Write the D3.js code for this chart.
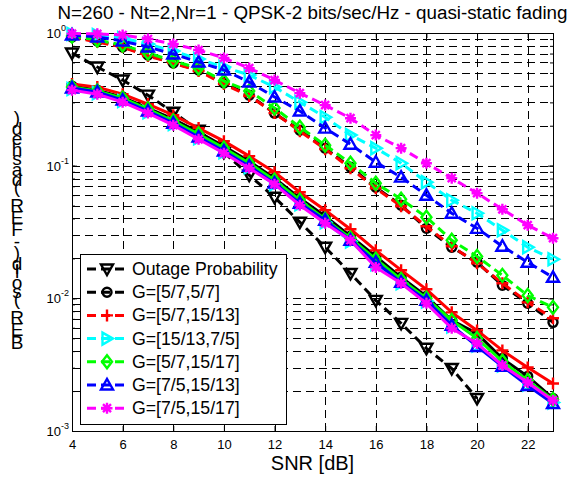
<!DOCTYPE html>
<html>
<head>
<meta charset="utf-8">
<script src="https://cdn.jsdelivr.net/npm/d3@7"></script>
<style>
body { margin: 0; padding: 0; background: #fff; }
svg { display: block; font-family: 'Liberation Sans', Arial, sans-serif; }
</style>
</head>
<body>
<div id="main"></div>
<script>
const TITLE = 'N=260 - Nt=2,Nr=1 - QPSK-2 bits/sec/Hz - quasi-static fading';
const X_LABEL = 'SNR [dB]';
const Y_LABEL = 'BER (solid) - FER (dashed)';
const X_TICKS = [4, 6, 8, 10, 12, 14, 16, 18, 20, 22];
const Y_TICKS = [0.001, 0.01, 0.1, 1];
const Y_TICK_EXP = ['-3', '-2', '-1', '0'];
const LEGEND_LABELS = ['Outage Probability', 'G=[5/7,5/7]', 'G=[5/7,15/13]', 'G=[15/13,7/5]', 'G=[5/7,15/17]', 'G=[7/5,15/13]', 'G=[7/5,15/17]'];

const SNR = [4, 5, 6, 7, 8, 9, 10, 11, 12, 13, 14, 15, 16, 17, 18, 19, 20, 21, 22, 23];
const SNR_OUTAGE = [4, 5, 6, 7, 8, 9, 10, 11, 12, 13, 14, 15, 16, 17, 18, 19, 20];

const outage = [0.706, 0.554, 0.442, 0.340, 0.253, 0.185, 0.126, 0.0848, 0.0578, 0.0375, 0.0243, 0.0154, 0.00966, 0.00648, 0.00420, 0.00296, 0.00176];

// dashed = FER
const fer57_57 = [0.933, 0.870, 0.784, 0.682, 0.594, 0.526, 0.420, 0.340, 0.249, 0.185, 0.1355, 0.0974, 0.0688, 0.0503, 0.0337, 0.0243, 0.0187, 0.01253, 0.00917, 0.00659];
const fer57_1513 = [0.933, 0.855, 0.784, 0.671, 0.594, 0.517, 0.412, 0.335, 0.249, 0.182, 0.1332, 0.0957, 0.0676, 0.0495, 0.0349, 0.0247, 0.0184, 0.0130, 0.00933, 0.00707];
const fer1513_75 = [0.983, 0.966, 0.917, 0.826, 0.731, 0.636, 0.554, 0.482, 0.391, 0.301, 0.232, 0.170, 0.1355, 0.1044, 0.0751, 0.0549, 0.0438, 0.0326, 0.0243, 0.0197];
const fer57_1517 = [0.949, 0.885, 0.812, 0.707, 0.615, 0.544, 0.434, 0.365, 0.272, 0.195, 0.1428, 0.1044, 0.0738, 0.0559, 0.0409, 0.0274, 0.0207, 0.0149, 0.0105, 0.00855];
const fer75_1513 = [0.966, 0.933, 0.870, 0.784, 0.694, 0.604, 0.526, 0.427, 0.329, 0.258, 0.192, 0.145, 0.1062, 0.0819, 0.0599, 0.0438, 0.0337, 0.0247, 0.0187, 0.0144];
const fer75_1517 = [0.99, 0.985, 0.966, 0.901, 0.826, 0.744, 0.648, 0.544, 0.442, 0.352, 0.286, 0.228, 0.170, 0.1355, 0.1044, 0.0805, 0.0620, 0.0469, 0.0356, 0.0284];

// solid = BER
const ber57_57 = [0.398, 0.371, 0.329, 0.272, 0.224, 0.179, 0.140, 0.108, 0.0805, 0.0568, 0.0416, 0.0294, 0.0207, 0.0144, 0.01035, 0.00682, 0.00544, 0.00352, 0.00258, 0.00176];
const ber57_1513 = [0.412, 0.391, 0.346, 0.291, 0.240, 0.192, 0.153, 0.118, 0.0893, 0.0631, 0.0462, 0.0332, 0.0230, 0.0163, 0.0117, 0.00784, 0.00573, 0.00405, 0.00301, 0.00228];
const ber1513_75 = [0.378, 0.352, 0.307, 0.253, 0.206, 0.161, 0.1264, 0.0974, 0.0725, 0.0512, 0.0375, 0.0269, 0.0181, 0.0130, 0.00949, 0.00615, 0.00442, 0.00312, 0.00224, 0.00164];
const ber57_1517 = [0.391, 0.365, 0.323, 0.267, 0.217, 0.173, 0.1355, 0.1044, 0.0777, 0.0549, 0.0395, 0.0284, 0.0197, 0.0139, 0.0100, 0.00682, 0.00499, 0.00335, 0.00240, 0.00173];
const ber75_1513 = [0.385, 0.359, 0.312, 0.258, 0.209, 0.164, 0.1287, 0.0991, 0.0738, 0.0521, 0.0388, 0.0274, 0.0187, 0.0132, 0.00966, 0.00625, 0.00434, 0.00307, 0.00220, 0.00161];
const ber75_1517 = [0.371, 0.346, 0.301, 0.249, 0.202, 0.158, 0.1243, 0.0957, 0.0725, 0.0503, 0.0368, 0.0274, 0.0171, 0.0130, 0.00917, 0.00594, 0.00457, 0.00312, 0.00232, 0.00170];

const codes = [
    {color: '#000000', marker: 'o', fer: fer57_57, ber: ber57_57},
    {color: '#ff0000', marker: '+', fer: fer57_1513, ber: ber57_1513},
    {color: '#00ffff', marker: '>', fer: fer1513_75, ber: ber1513_75},
    {color: '#00ff00', marker: 'd', fer: fer57_1517, ber: ber57_1517},
    {color: '#0000ff', marker: '^', fer: fer75_1513, ber: ber75_1513},
    {color: '#ff00ff', marker: '*', fer: fer75_1517, ber: ber75_1517}
];

const WIDTH = 569, HEIGHT = 477;
const LEFT = 72, RIGHT = 553, TOP = 33, BOTTOM = 431;
const DASH = '9,5';

const markerPath = (type) => {
    switch (type) {
        case 'v': return 'M-6,-4.5L6,-4.5L0,6Z';
        case '^': return 'M-6,4.5L6,4.5L0,-6Z';
        case '>': return 'M-4.5,-6L-4.5,6L6,0Z';
        case 'o': return 'M4.5,0A4.5,4.5 0 1,1 -4.5,0A4.5,4.5 0 1,1 4.5,0Z';
        case 'd': return 'M0,-6.5L5,0L0,6.5L-5,0Z';
        case '+': return 'M-6,0H6M0,-6V6';
        case '*': return 'M-5.5,0H5.5M0,-5.5V5.5M-4,-4L4,4M-4,4L4,-4';
    }
};

const svg = d3.select('#main').append('svg').attr('width', WIDTH).attr('height', HEIGHT);
svg.append('rect').attr('width', WIDTH).attr('height', HEIGHT).attr('fill', '#fff');

const x = d3.scaleLinear().domain([4, 23]).range([LEFT, RIGHT]);
const y = d3.scaleLog().domain([0.001, 1]).range([BOTTOM, TOP]);

// grid
const grid = svg.append('g').attr('stroke', '#000').attr('stroke-width', 1).attr('stroke-dasharray', '8,5');
grid.selectAll('.hg').data(y.ticks().filter((v) => v < 1 && v > 0.001)).enter().append('line')
    .attr('x1', LEFT).attr('x2', RIGHT)
    .attr('y1', (d) => Math.round(y(d)) + 0.5).attr('y2', (d) => Math.round(y(d)) + 0.5);
grid.selectAll('.vg').data(X_TICKS.filter((v) => v > 4)).enter().append('line')
    .attr('y1', TOP).attr('y2', BOTTOM)
    .attr('x1', (d) => Math.round(x(d)) + 0.5).attr('x2', (d) => Math.round(x(d)) + 0.5);

// axes (ticks inward)
const noLabel = () => '';
svg.append('g').attr('transform', `translate(0,${BOTTOM})`)
    .call(d3.axisBottom(x).tickValues(X_TICKS).tickSizeInner(-5).tickSizeOuter(0).tickPadding(9))
    .call((g) => g.select('.domain').remove())
    .call((g) => g.selectAll('text').attr('font-size', 13).attr('fill', '#000').attr('font-family', null));
svg.append('g').attr('transform', `translate(0,${TOP})`)
    .call(d3.axisTop(x).tickValues(X_TICKS).tickSizeInner(-5).tickSizeOuter(0).tickFormat(noLabel))
    .call((g) => g.select('.domain').remove());
svg.append('g').attr('transform', `translate(${LEFT},0)`)
    .call(d3.axisLeft(y).tickValues(y.ticks()).tickSizeInner(-3).tickSizeOuter(0).tickFormat(noLabel))
    .call((g) => g.select('.domain').remove());
svg.append('g').attr('transform', `translate(${LEFT},0)`)
    .call(d3.axisLeft(y).tickValues(Y_TICKS).tickSizeInner(-5).tickSizeOuter(0).tickFormat(noLabel))
    .call((g) => g.select('.domain').remove());
svg.append('g').attr('transform', `translate(${RIGHT},0)`)
    .call(d3.axisRight(y).tickValues(y.ticks()).tickSizeInner(-3).tickSizeOuter(0).tickFormat(noLabel))
    .call((g) => g.select('.domain').remove());
svg.append('g').attr('transform', `translate(${RIGHT},0)`)
    .call(d3.axisRight(y).tickValues(Y_TICKS).tickSizeInner(-5).tickSizeOuter(0).tickFormat(noLabel))
    .call((g) => g.select('.domain').remove());

const yLabels = svg.append('g').attr('font-size', 13);
Y_TICKS.forEach((v, i) => {
    yLabels.append('text').attr('x', LEFT - 11).attr('y', y(v) + 5).attr('text-anchor', 'end').text('10');
    yLabels.append('text').attr('x', LEFT - 11).attr('y', y(v) - 2).attr('font-size', 9).text(Y_TICK_EXP[i]);
});

svg.append('rect').attr('x', LEFT + 0.5).attr('y', TOP + 0.5).attr('width', RIGHT - LEFT).attr('height', BOTTOM - TOP)
    .attr('fill', 'none').attr('stroke', '#000').attr('stroke-width', 1);

// curves
const plot = svg.append('g');
const drawSeries = (xs, ys, color, marker, dashed) => {
    const pts = xs.map((s, i) => [s, ys[i]]);
    plot.append('path').datum(pts)
        .attr('d', d3.line().x((d) => x(d[0])).y((d) => y(d[1])))
        .attr('fill', 'none').attr('stroke', color).attr('stroke-width', 3)
        .attr('stroke-dasharray', dashed ? DASH : null);
    plot.selectAll(null).data(pts).enter().append('path')
        .attr('transform', (d) => `translate(${x(d[0])},${y(d[1])})`)
        .attr('d', markerPath(marker))
        .attr('fill', 'none').attr('stroke', color).attr('stroke-width', 2.4);
};

drawSeries(SNR_OUTAGE, outage, '#000', 'v', true);
codes.forEach((c) => drawSeries(SNR, c.fer, c.color, c.marker, true));
codes.forEach((c) => drawSeries(SNR, c.ber, c.color, c.marker, false));

// legend
const LEG_X = 80, LEG_Y = 254, LEG_W = 206, LEG_H = 170, LEG_STEP = 23.2;
const legend = svg.append('g');
legend.append('rect').attr('x', LEG_X + 0.5).attr('y', LEG_Y + 0.5).attr('width', LEG_W).attr('height', LEG_H)
    .attr('fill', '#fff').attr('stroke', '#000').attr('stroke-width', 1);
const legendItems = [{color: '#000', marker: 'v'}].concat(codes);
legendItems.forEach((c, i) => {
    const cy = LEG_Y + 15 + i * LEG_STEP;
    legend.append('line').attr('x1', 87).attr('x2', 127).attr('y1', cy).attr('y2', cy)
        .attr('stroke', c.color).attr('stroke-width', 3).attr('stroke-dasharray', DASH);
    legend.append('path').attr('transform', `translate(107,${cy})`).attr('d', markerPath(c.marker))
        .attr('fill', 'none').attr('stroke', c.color).attr('stroke-width', 2.4);
    legend.append('text').attr('x', 132).attr('y', cy + 6).attr('font-size', 17.7).text(LEGEND_LABELS[i]);
});

// titles
svg.append('text').attr('x', (LEFT + RIGHT) / 2).attr('y', 19).attr('text-anchor', 'middle')
    .attr('font-size', 18.8).text(TITLE);
svg.append('text').attr('x', (LEFT + RIGHT) / 2).attr('y', 470).attr('text-anchor', 'middle')
    .attr('font-size', 20).text(X_LABEL);

// y label: upright glyphs stacked bottom-to-top, as in the reference
const yl = svg.append('text').attr('font-size', 19).attr('x', 0).attr('y', 0).text(Y_LABEL);
const node = yl.node();
const starts = d3.range(node.getNumberOfChars()).map((i) => node.getStartPositionOfChar(i).x);
yl.attr('text-anchor', 'middle')
    .attr('x', starts.map(() => 17).join(' '))
    .attr('y', starts.map((s) => 349 - s).join(' '));
</script>
</body>
</html>
